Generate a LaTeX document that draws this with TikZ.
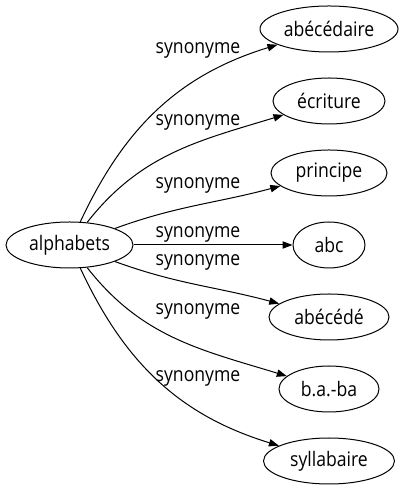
\documentclass[tikz,border=0pt]{standalone}
\usepackage{fontspec}
\setmainfont[FakeStretch=0.88]{Open Sans}
\usepackage{tikz}
\usetikzlibrary{shapes.geometric, arrows.meta, positioning}

\begin{document}
\begin{tikzpicture}[
    x=0.75pt, y=0.75pt,
    node distance=18.75pt,
    word/.style={draw, ellipse, inner xsep=0pt, inner ysep=0pt, minimum height=34.5pt, line width=0.75pt, font=\fontsize{15}{18}\selectfont},
    arrow/.style={-{Triangle[length=7.5pt, width=5.5pt]}, line width=0.75pt},
    rel/.style={font=\fontsize{15}{18}\selectfont, inner sep=1pt}
]
    \useasboundingbox (0,0) rectangle (405,491);

    % Main entities
    \node[word, minimum width=95.25pt] (alphabets) at (69.5,246) {alphabets};
    \node[word, minimum width=103.5pt] (abecedaire) at (329,462) {abécédaire};
    \node[word, minimum width=84pt, below=of abecedaire] (ecriture) {écriture};
    \node[word, minimum width=87pt, below=of ecriture] (principe) {principe};
    \node[word, minimum width=54pt, below=of principe] (abc) {abc};
    \node[word, minimum width=90pt, below=of abc] (abecede) {abécédé};
    \node[word, minimum width=75pt, below=of abecede] (baba) {b.a.-ba};
    \node[word, minimum width=98.25pt, below=of baba] (syllabaire) {syllabaire};

    % Relationships
    \draw[arrow] (alphabets) to[out=65, in=197] (abecedaire);
    \draw[arrow] (alphabets) to[out=52, in=197] (ecriture);
    \draw[arrow] (alphabets) to[out=20, in=195] (principe);
    \draw[arrow] (alphabets) -- (abc);
    \draw[arrow] (alphabets) to[out=-20, in=165] (abecede);
    \draw[arrow] (alphabets) to[out=-52, in=163] (baba);
    \draw[arrow] (alphabets) to[out=-65, in=163] (syllabaire);

    % Labels
    \node[rel] (syn1) at (198,441) {synonyme};
    \node[rel] (syn2) at (198,369) {synonyme};
    \node[rel] (syn3) at (198,306) {synonyme};
    \node[rel] (syn4) at (198,257) {synonyme};
    \node[rel] (syn5) at (198,229) {synonyme};
    \node[rel] (syn6) at (198,180) {synonyme};
    \node[rel] (syn7) at (198,113) {synonyme};
\end{tikzpicture}
\end{document}
